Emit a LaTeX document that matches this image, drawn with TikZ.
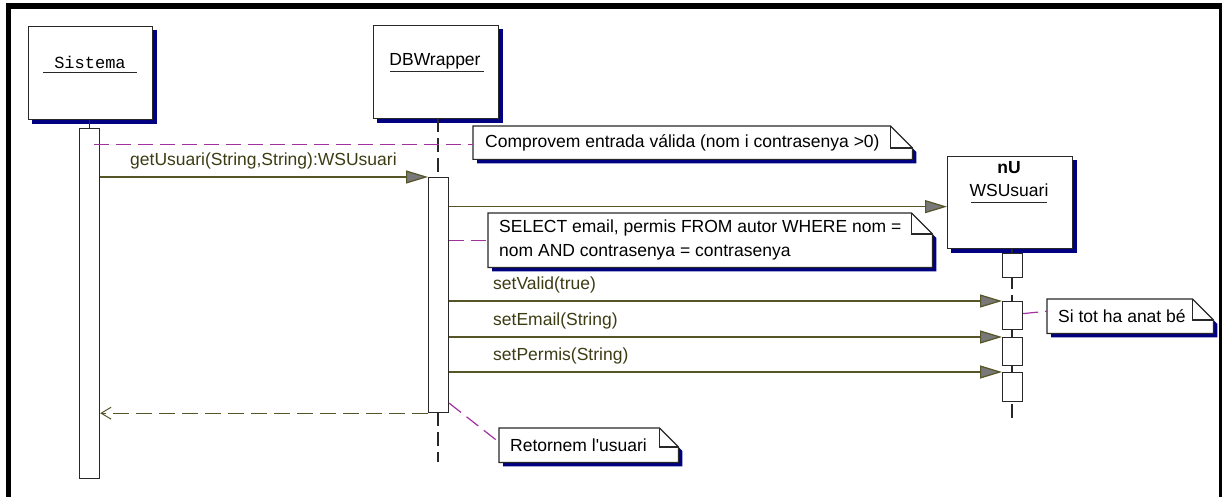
\documentclass[tikz,border=0pt]{standalone}
\usepackage{fontspec}
\setmainfont{Liberation Sans}
\setmonofont{Liberation Mono}
\newfontfamily\uifont{Liberation Sans}
\usetikzlibrary{arrows.meta,calc}
\definecolor{msgcol}{RGB}{85,85,40}
\definecolor{lblcol}{RGB}{60,60,20}
\definecolor{linkcol}{RGB}{160,50,160}
\definecolor{shadowcol}{RGB}{0,0,128}
\definecolor{boxcol}{RGB}{40,40,40}
\definecolor{headfill}{RGB}{120,120,120}
\pgfdeclarelayer{bg}
\pgfsetlayers{bg,main}
\tikzset{
  objbox/.style={draw=boxcol, line width=1.3pt, fill=white, minimum width=124pt, minimum height=93pt, anchor=north west, inner sep=0pt},
  actbox/.style={draw=boxcol, line width=1.2pt, fill=white, minimum width=20pt, anchor=north west, inner sep=0pt},
  msg/.style={draw=msgcol, line width=1.2pt, -{Triangle[length=22pt,width=13pt,fill=headfill]}},
  retmsg/.style={draw=msgcol, line width=1.3pt, dash pattern=on 16pt off 7pt, -{Straight Barb[length=10pt,width=12pt,line width=1pt]}},
  notelink/.style={draw=linkcol, line width=1.2pt, dash pattern=on 15pt off 7pt},
  lifeline/.style={draw=boxcol, line width=1.2pt, dash pattern=on 14pt off 6pt},
  solidlife/.style={draw=boxcol, line width=1.2pt},
  ul/.style={draw=boxcol, line width=1pt},
  lbl/.style={text=lblcol, font=\uifont\fontsize{17.5}{20}\selectfont, inner sep=0pt, anchor=base west},
  txt/.style={font=\uifont\fontsize{17.5}{20}\selectfont, inner sep=0pt},
  notebox/.style={anchor=north west, inner sep=0pt},
  notetext/.style={font=\uifont\fontsize{17.5}{24}\selectfont, inner sep=0pt, anchor=west, align=left},
}
\newcommand{\notedeco}[2]{%
  \begin{pgfonlayer}{bg}
  \fill[shadowcol] ($(#1.north west)+(4,4)$) -- ($(#1.north east)+(4-#2,4)$) -- ($(#1.north east)+(4,4+#2)$) -- ($(#1.south east)+(4,4)$) -- ($(#1.south west)+(4,4)$) -- cycle;
  \filldraw[fill=white, draw=boxcol, line width=1.2pt] (#1.north west) -- ($(#1.north east)+(-#2,0)$) -- ($(#1.north east)+(0,#2)$) -- (#1.south east) -- (#1.south west) -- cycle;
  \draw[boxcol, line width=1.2pt] ($(#1.north east)+(-#2,0)$) -- ++(0,#2) -- ++(#2,0);
  \end{pgfonlayer}}
\newcommand{\objshadow}[1]{%
  \begin{pgfonlayer}{bg}
  \fill[shadowcol] ($(#1.north west)+(4,4)$) rectangle ($(#1.south east)+(4,4)$);
  \end{pgfonlayer}}
\begin{document}
\begin{tikzpicture}[x=1pt,y=-1pt]
\useasboundingbox (0,0) rectangle (1222,497);

% object heads
\node[objbox] (sys) at (28,26) {};
\objshadow{sys}
\node[txt, font=\ttfamily\fontsize{17}{20}\selectfont] (sysname) at (90,62) {Sistema};
\draw[ul] (43,73) -- (137,73);

\node[objbox, minimum width=125pt] (db) at (373,25) {};
\objshadow{db}
\node[txt] (dbname) at (435,61) {DBWrapper};
\draw[ul] (390,72) -- (484,72);

\node[objbox, minimum width=125pt, minimum height=92pt] (nu) at (947,156) {};
\objshadow{nu}
\node[txt, font=\uifont\bfseries\fontsize{17.5}{20}\selectfont] (nuname) at (1009,168) {nU};
\node[txt] (nuclass) at (1009,190) {WSUsuari};
\draw[ul] (971,202) -- (1047,202);

% lifelines
\coordinate (dbend) at (438,462);
\coordinate (nuend) at (1012,418);
\node[actbox, minimum height=350pt] (sysact) at (79,128) {};
\draw[solidlife] (sysact.north |- sys.south) -- (sysact.north);
\draw[lifeline] (438,118) -- (438,177);
\draw[lifeline] (438,412) -- (dbend);
\draw[solidlife] (1012,248) -- (1012,253);
\draw[boxcol, line width=1.2pt, dash pattern=on 12pt off 6pt] (1012,277) -- (1012,301);
\draw[solidlife] (1012,329) -- (1012,337);
\draw[solidlife] (1012,365) -- (1012,372);
\draw[solidlife] (1012,404) -- (nuend);

% activations
\node[actbox, minimum height=235pt] (dbact) at (428,177) {};
\node[actbox, minimum height=24pt] (nua1) at (1002,253) {};
\node[actbox, minimum height=28pt] (nua2) at (1002,301) {};
\node[actbox, minimum height=28pt] (nua3) at (1002,337) {};
\node[actbox, minimum height=29pt] (nua4) at (1002,372) {};

% notes
\node[notebox, minimum width=439pt, minimum height=33pt] (note1) at (473,126) {};
\notedeco{note1}{22}
\node[notetext] (note1t) at ($(note1.west)+(12,0)$) {Comprovem entrada v\'alida (nom i contrasenya >0)};

\node[notebox, minimum width=444pt, minimum height=54pt] (note2) at (488,213) {};
\notedeco{note2}{21}
\node[notetext] (note2t) at ($(note2.west)+(11,0)$) {SELECT email, permis FROM autor WHERE nom =\\nom AND contrasenya = contrasenya};

\node[notebox, minimum width=166pt, minimum height=34pt] (note3) at (1047,299) {};
\notedeco{note3}{21}
\node[notetext] (note3t) at ($(note3.west)+(11,0)$) {Si tot ha anat b\'e};

\node[notebox, minimum width=179pt, minimum height=34pt] (note4) at (499,428) {};
\notedeco{note4}{19}
\node[notetext] (note4t) at ($(note4.west)+(11,0)$) {Retornem l'usuari};

% note links
\draw[notelink] ($(sysact.center |- note1.west)+(4,1.5)$) -- ($(note1.west)+(0,1.5)$);
\draw[notelink] (dbact.east |- note2.west) -- (note2.west);
\draw[notelink] ($(nua2.east)+(0,-2)$) -- ($(note3.west)+(0,-5)$);
\draw[notelink] ($(dbact.south east)+(0,-10)$) -- ($(note4.west)+(0,-3)$);

% messages
\draw[msg] (sysact.east |- dbact.north) -- (dbact.north west);
\node[lbl] (m1) at (130,165) {getUsuari(String,String):WSUsuari};

\coordinate (nuin) at ($(nu.west)+(0,4)$);
\draw[msg] (dbact.east |- nuin) -- (nuin);

\draw[msg] (dbact.east |- nua2.north) -- (nua2.north west);
\node[lbl] (m3) at (493,289) {setValid(true)};
\draw[msg] (dbact.east |- nua3.north) -- (nua3.north west);
\node[lbl] (m4) at (493,325) {setEmail(String)};
\draw[msg] (dbact.east |- nua4.north) -- (nua4.north west);
\node[lbl] (m5) at (493,360) {setPermis(String)};

\draw[retmsg] (dbact.south west) -- (sysact.east |- dbact.south);

% frame
\fill[black] (6,3) rectangle (1222,9);
\fill[black] (6,3) rectangle (11,497);
\fill[black] (1219,3) rectangle (1222,497);
\end{tikzpicture}
\end{document}
